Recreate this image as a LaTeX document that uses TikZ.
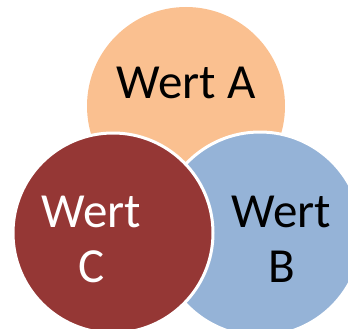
\documentclass[tikz,border=0pt]{standalone}
\usepackage{fontspec}
\setmainfont{Carlito}
\definecolor{orangeA}{HTML}{FAC090}
\definecolor{blueB}{HTML}{95B3D7}
\definecolor{redC}{HTML}{953735}
\begin{document}
\begin{tikzpicture}[x=1pt,y=-1pt,
  disc/.style={circle, inner sep=0pt, outer sep=0pt, minimum size=#1},
  lbl/.style={anchor=base, inner sep=0pt, font=\fontsize{49}{55}\selectfont}]
\useasboundingbox (0,0) rectangle (348,329);
\begin{scope}
\clip (0,0) rectangle (348,329);
\node[disc=198pt, fill=orangeA] (A) at (186,106) {};
\node[disc=204pt, fill=blueB, draw=white, line width=3pt] (B) at (260,234) {};
\node[disc=200pt, fill=redC, draw=white, line width=3pt] (C) at (113,233) {};
\end{scope}
\node[lbl, text=black] (tA) at (186,99) {Wert A};
\node[lbl, text=black] (tB1) at (281,227) {Wert};
\node[lbl, text=black] (tB2) at (282,282) {B};
\node[lbl, text=white] (tC1) at (91,227) {Wert};
\node[lbl, text=white] (tC2) at (92,282) {C};
\end{tikzpicture}
\end{document}
